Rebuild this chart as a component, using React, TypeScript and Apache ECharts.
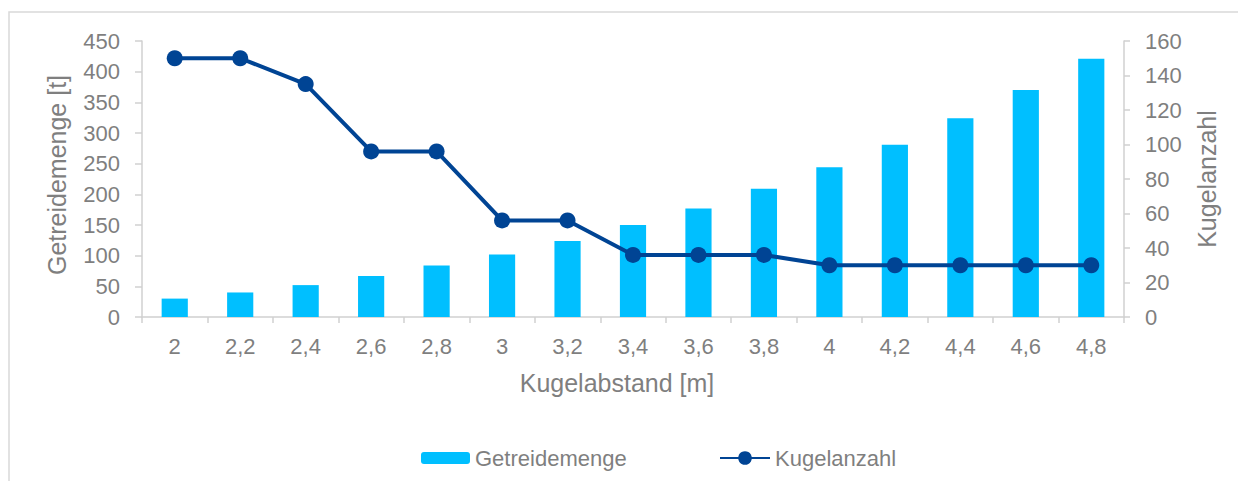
import React, { useEffect, useRef } from "react";
import * as echarts from "echarts";

const categories = ["2", "2,2", "2,4", "2,6", "2,8", "3", "3,2", "3,4", "3,6", "3,8", "4", "4,2", "4,4", "4,6", "4,8"];
const getreidemenge = [30, 40, 52, 67, 84, 102, 124, 150, 177, 209, 244, 281, 324, 370, 421];
const kugelanzahl = [150, 150, 135, 96, 96, 56, 56, 36, 36, 36, 30, 30, 30, 30, 30];

const FONT = "'Liberation Sans', Arial, sans-serif";
const TEXT = "#7F7F7F";
const AXIS = "#D0D0D0";

export default function App() {
  const ref = useRef<HTMLDivElement>(null);
  useEffect(() => {
    if (!ref.current) return;
    const chart = echarts.init(ref.current, undefined, { renderer: "svg" });
    chart.setOption({
      animation: false,
      textStyle: { fontFamily: FONT },
      grid: { left: 134, right: 122, top: 33, bottom: 164, containLabel: false },
      legend: [
        {
          left: 408,
          top: 434,
          itemWidth: 49,
          itemHeight: 12,
          textStyle: { color: TEXT, fontSize: 22, fontFamily: FONT },
          data: ["Getreidemenge"],
        },
        {
          left: 706,
          top: 434,
          itemWidth: 50,
          itemHeight: 17,
          textStyle: { color: TEXT, fontSize: 22, fontFamily: FONT },
          data: ["Kugelanzahl"],
        },
      ],
      graphic: [
        {
          type: "rect",
          shape: { x: 1, y: 4, width: 1400, height: 800 },
          style: { fill: "none", stroke: "#D9D9D9", lineWidth: 1.5 },
          silent: true,
          z: -1,
        },
        {
          type: "text",
          x: 609,
          y: 375,
          style: { text: "Kugelabstand [m]", fill: TEXT, fontSize: 25, fontFamily: FONT, align: "center", verticalAlign: "middle" },
        },
        {
          type: "text",
          x: 49,
          y: 167,
          rotation: Math.PI / 2,
          style: { text: "Getreidemenge [t]", fill: TEXT, fontSize: 25, fontFamily: FONT, align: "center", verticalAlign: "middle" },
        },
        {
          type: "text",
          x: 1199,
          y: 171,
          rotation: Math.PI / 2,
          style: { text: "Kugelanzahl", fill: TEXT, fontSize: 25, fontFamily: FONT, align: "center", verticalAlign: "middle" },
        },
      ],
      xAxis: {
        type: "category",
        data: categories,
        boundaryGap: true,
        axisLine: { show: true, lineStyle: { color: AXIS, width: 1.5 } },
        axisTick: { show: true, length: 6, alignWithLabel: false, lineStyle: { color: AXIS, width: 1.5 } },
        axisLabel: { color: TEXT, fontSize: 22, margin: 18, fontFamily: FONT },
        splitLine: { show: false },
      },
      yAxis: [
        {
          type: "value",
          min: 0,
          max: 450,
          interval: 50,
          axisLine: { show: true, lineStyle: { color: AXIS, width: 1.5 } },
          axisTick: { show: true, length: 7, lineStyle: { color: AXIS, width: 1.5 } },
          axisLabel: { color: TEXT, fontSize: 22, margin: 22, fontFamily: FONT },
          splitLine: { show: false },
        },
        {
          type: "value",
          min: 0,
          max: 160,
          interval: 20,
          position: "right",
          axisLine: { show: true, lineStyle: { color: AXIS, width: 1.5 } },
          axisTick: { show: true, length: 6, lineStyle: { color: AXIS, width: 1.5 } },
          axisLabel: { color: TEXT, fontSize: 22, margin: 21, fontFamily: FONT },
          splitLine: { show: false },
        },
      ],
      series: [
        {
          name: "Getreidemenge",
          type: "bar",
          data: getreidemenge,
          yAxisIndex: 0,
          barWidth: "40%",
          itemStyle: { color: "#00BFFF" },
        },
        {
          name: "Kugelanzahl",
          type: "line",
          data: kugelanzahl,
          yAxisIndex: 1,
          symbol: "circle",
          symbolSize: 16,
          lineStyle: { color: "#004494", width: 4 },
          itemStyle: { color: "#004494" },
        },
      ],
    });
    return () => chart.dispose();
  }, []);
  return <div ref={ref} style={{ width: 1238, height: 473 }} />;
}
